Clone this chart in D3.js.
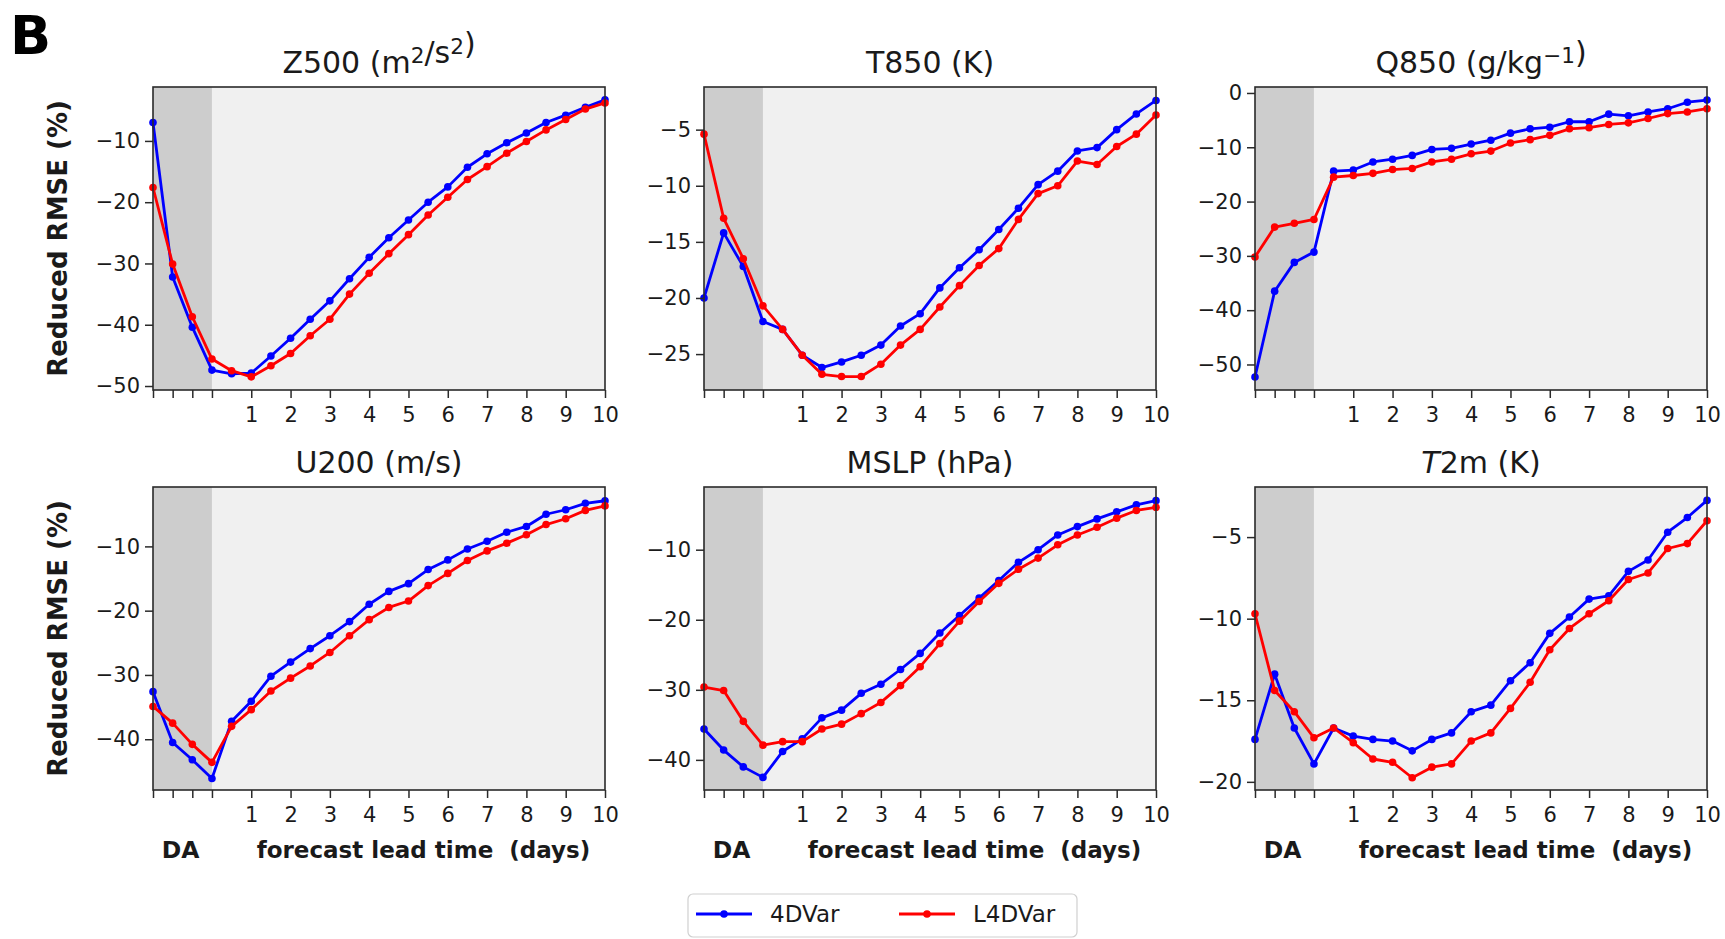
<!DOCTYPE html>
<html><head><meta charset="utf-8">
<script src="https://cdn.jsdelivr.net/npm/d3@7"></script>
<style>
body{margin:0;background:#fff}
svg{display:block}
text{font-family:"DejaVu Sans",sans-serif;fill:#1a1a1a}
</style>
</head><body>
<svg id="chart" width="1725" height="939"></svg>
<script>
// ---------- data ----------
const leadTimes = [-1.5,-1,-0.5,0,0.5,1,1.5,2,2.5,3,3.5,4,4.5,5,5.5,6,6.5,7,7.5,8,8.5,9,9.5,10];
const xTickValues = [-1.5,-1,-0.5,0,1,2,3,4,5,6,7,8,9,10];
const xTickLabels = ["","","","","1","2","3","4","5","6","7","8","9","10"];
const seriesNames = ["4DVar","L4DVar"];
const seriesColors = ["#0000ff","#ff0000"];

const z500_4dvar  = [-7.0,-32.2,-40.4,-47.4,-48.0,-47.9,-45.1,-42.2,-39.1,-36.1,-32.5,-29.0,-25.8,-22.9,-20.0,-17.5,-14.3,-12.1,-10.3,-8.7,-7.0,-5.8,-4.5,-3.3];
const z500_l4dvar = [-17.6,-30.1,-38.7,-45.6,-47.5,-48.5,-46.7,-44.7,-41.8,-39.1,-35.0,-31.6,-28.4,-25.3,-22.1,-19.2,-16.3,-14.2,-12.0,-10.1,-8.2,-6.5,-4.8,-3.8];

const t850_4dvar  = [-20.0,-14.2,-17.2,-22.1,-22.8,-25.1,-26.2,-25.7,-25.1,-24.2,-22.5,-21.4,-19.1,-17.3,-15.7,-13.9,-12.0,-9.9,-8.7,-6.9,-6.6,-5.0,-3.6,-2.4];
const t850_l4dvar = [-5.4,-12.9,-16.5,-20.7,-22.8,-25.1,-26.8,-27.0,-27.0,-25.9,-24.2,-22.8,-20.8,-18.9,-17.1,-15.6,-13.0,-10.7,-10.0,-7.8,-8.1,-6.5,-5.4,-3.7];

const q850_4dvar  = [-52.3,-36.5,-31.2,-29.3,-14.4,-14.2,-12.7,-12.2,-11.5,-10.4,-10.2,-9.4,-8.7,-7.4,-6.6,-6.3,-5.3,-5.3,-3.9,-4.2,-3.5,-2.9,-1.7,-1.3];
const q850_l4dvar = [-30.2,-24.7,-24.0,-23.3,-15.5,-15.2,-14.8,-14.1,-13.9,-12.7,-12.2,-11.2,-10.7,-9.2,-8.6,-7.8,-6.6,-6.4,-5.8,-5.5,-4.7,-3.8,-3.5,-2.9];

const u200_4dvar  = [-32.6,-40.5,-43.2,-46.1,-37.2,-34.1,-30.2,-28.0,-25.9,-23.9,-21.7,-19.0,-17.0,-15.8,-13.6,-12.1,-10.4,-9.2,-7.8,-6.9,-5.0,-4.3,-3.3,-2.9];
const u200_l4dvar = [-34.9,-37.5,-40.8,-43.6,-38.0,-35.4,-32.5,-30.5,-28.6,-26.5,-23.9,-21.4,-19.5,-18.5,-16.1,-14.2,-12.2,-10.7,-9.5,-8.2,-6.6,-5.7,-4.4,-3.7];

const mslp_4dvar  = [-35.6,-38.6,-41.0,-42.5,-38.8,-37.0,-34.0,-32.9,-30.5,-29.2,-27.1,-24.8,-21.9,-19.4,-16.9,-14.4,-11.8,-10.0,-7.9,-6.7,-5.6,-4.6,-3.6,-3.0];
const mslp_l4dvar = [-29.6,-30.1,-34.5,-37.9,-37.4,-37.4,-35.6,-34.9,-33.4,-31.8,-29.4,-26.7,-23.4,-20.2,-17.4,-14.8,-12.8,-11.2,-9.3,-7.9,-6.8,-5.5,-4.4,-3.95];

const t2m_4dvar   = [-17.4,-13.4,-16.7,-18.9,-16.7,-17.2,-17.4,-17.5,-18.1,-17.4,-17.0,-15.7,-15.3,-13.8,-12.7,-10.9,-9.9,-8.8,-8.6,-7.1,-6.4,-4.7,-3.8,-2.75];
const t2m_l4dvar  = [-9.7,-14.4,-15.7,-17.3,-16.7,-17.6,-18.6,-18.8,-19.75,-19.1,-18.9,-17.5,-17.0,-15.5,-13.9,-11.9,-10.6,-9.7,-8.9,-7.6,-7.2,-5.7,-5.4,-4.0];

const z500_yticks = [-10,-20,-30,-40,-50];
const t850_yticks = [-5,-10,-15,-20,-25];
const q850_yticks = [0,-10,-20,-30,-40,-50];
const u200_yticks = [-10,-20,-30,-40];
const mslp_yticks = [-10,-20,-30,-40];
const t2m_yticks  = [-5,-10,-15,-20];

const yLabel = "Reduced RMSE (%)";
const daLabel = "DA";
const forecastLabel = "forecast lead time  (days)";

// ---------- layout ----------
const colX = [153, 704, 1255];
const rowY = [87, 487];
const pw = 452, ph = 303;

const panels = [
  {id:"z500", a:z500_4dvar, b:z500_l4dvar, dom:[-50.65,-1.2], ticks:z500_yticks, row:0, col:0},
  {id:"t850", a:t850_4dvar, b:t850_l4dvar, dom:[-28.2,-1.2], ticks:t850_yticks, row:0, col:1},
  {id:"q850", a:q850_4dvar, b:q850_l4dvar, dom:[-54.7,1.1], ticks:q850_yticks, row:0, col:2},
  {id:"u200", a:u200_4dvar, b:u200_l4dvar, dom:[-47.9,-0.76], ticks:u200_yticks, row:1, col:0},
  {id:"mslp", a:mslp_4dvar, b:mslp_l4dvar, dom:[-44.3,-1.05], ticks:mslp_yticks, row:1, col:1},
  {id:"t2m",  a:t2m_4dvar,  b:t2m_l4dvar,  dom:[-20.5,-1.93], ticks:t2m_yticks, row:1, col:2}
];

const svg = d3.select("#chart");

svg.append("text").attr("x",10).attr("y",54)
  .style("font-weight","bold").style("font-size","54px").style("fill","#000").text("B");

function titleFor(id, t){
  const sup = (s)=>{ t.append("tspan").attr("dy","-0.45em").style("font-size","0.72em").text(s);
                     t.append("tspan").attr("dy","0.45em").text(""); };
  if(id==="z500"){ t.append("tspan").text("Z500 (m"); sup("2"); t.append("tspan").text("/s"); sup("2"); t.append("tspan").text(")"); }
  else if(id==="t850"){ t.text("T850 (K)"); }
  else if(id==="q850"){ t.append("tspan").text("Q850 (g/kg"); sup("\u22121"); t.append("tspan").text(")"); }
  else if(id==="u200"){ t.text("U200 (m/s)"); }
  else if(id==="mslp"){ t.text("MSLP (hPa)"); }
  else if(id==="t2m"){ t.append("tspan").style("font-style","italic").text("T"); t.append("tspan").text("2m (K)"); }
}

panels.forEach(p=>{
  const g = svg.append("g").attr("transform",`translate(${colX[p.col]},${rowY[p.row]})`);
  const x = d3.scaleLinear().domain([-1.5,10]).range([0,pw]);
  const y = d3.scaleLinear().domain(p.dom).range([ph,0]);

  g.append("rect").attr("x",x(-1.5)).attr("y",0).attr("width",x(0)-x(-1.5)).attr("height",ph).attr("fill","#cdcdcd");
  g.append("rect").attr("x",x(0)).attr("y",0).attr("width",x(10)-x(0)).attr("height",ph).attr("fill","#f0f0f0");

  const line = d3.line().x((d,i)=>x(leadTimes[i])).y(d=>y(d));
  [p.a,p.b].forEach((s,k)=>{
    g.append("path").datum(s).attr("d",line).attr("fill","none")
      .attr("stroke",seriesColors[k]).attr("stroke-width",2.8).attr("stroke-linejoin","round");
    g.selectAll(null).data(s).enter().append("circle")
      .attr("cx",(d,i)=>x(leadTimes[i])).attr("cy",d=>y(d)).attr("r",3.8).attr("fill",seriesColors[k]);
  });

  g.append("rect").attr("x",0).attr("y",0).attr("width",pw).attr("height",ph)
    .attr("fill","none").attr("stroke","#2a2a2a").attr("stroke-width",1.6);

  const ya = g.append("g").call(d3.axisLeft(y).tickValues(p.ticks).tickFormat(d3.format("d")).tickSize(8).tickPadding(5));
  const xa = g.append("g").attr("transform",`translate(0,${ph})`)
    .call(d3.axisBottom(x).tickValues(xTickValues).tickFormat((d,i)=>xTickLabels[i]).tickSize(8).tickPadding(9));
  [ya,xa].forEach(a=>{
    a.select(".domain").remove();
    a.selectAll("line").attr("stroke","#2a2a2a").attr("stroke-width",1.5);
    a.selectAll("text").style("font-size","21px").style("font-family","DejaVu Sans").attr("fill","#1a1a1a");
  });

  const t = g.append("text").attr("x",pw/2).attr("y",-14).attr("text-anchor","middle").style("font-size","30px");
  titleFor(p.id,t);

  if(p.col===0){
    g.append("text").attr("transform",`translate(-86,${ph/2}) rotate(-90)`).attr("text-anchor","middle")
      .style("font-weight","bold").style("font-size","26px").text(yLabel);
  }
  if(p.row===1){
    g.append("text").attr("x",(x(-1.5)+x(0))/2 - 2).attr("y",ph+68).attr("text-anchor","middle")
      .style("font-weight","bold").style("font-size","23.5px").text(daLabel);
    g.append("text").attr("x",(x(0)+x(10))/2+15).attr("y",ph+68).attr("text-anchor","middle")
      .style("font-weight","bold").style("font-size","23px").style("white-space","pre").text(forecastLabel);
  }
});

// legend
const lg = svg.append("g").attr("transform","translate(688,894)");
lg.append("rect").attr("width",389).attr("height",43).attr("rx",5).attr("fill","#fff").attr("stroke","#d0d0d0").attr("stroke-width",1.2);
const legX = [8, 211];
seriesNames.forEach((n,k)=>{
  const e = lg.append("g").attr("transform",`translate(${legX[k]},20)`);
  e.append("line").attr("x1",0).attr("x2",56).attr("stroke",seriesColors[k]).attr("stroke-width",2.8);
  e.append("circle").attr("cx",28).attr("r",3.8).attr("fill",seriesColors[k]);
  e.append("text").attr("x",74).attr("y",8).style("font-size","23px").text(n);
});
</script>
</body></html>
